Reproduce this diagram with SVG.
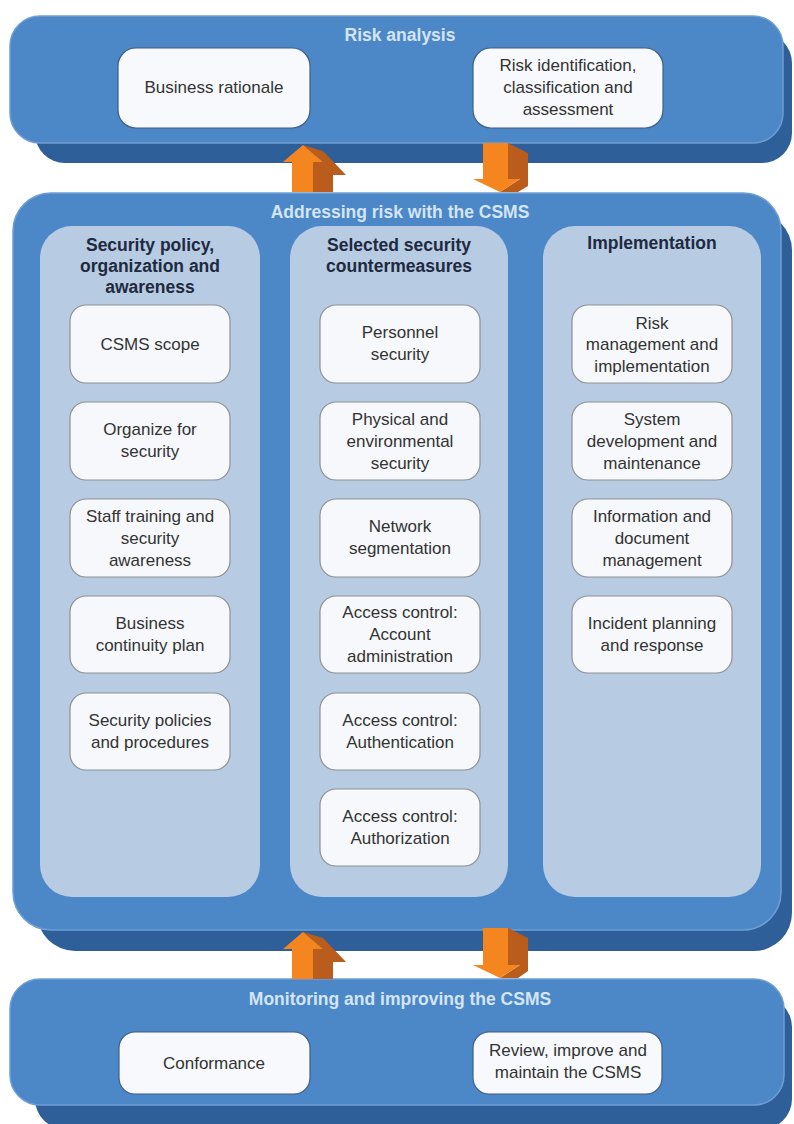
<svg xmlns="http://www.w3.org/2000/svg" width="794" height="1124" viewBox="0 0 794 1124">
<style>
.front{fill:#4c87c7;stroke:#6d9fd5;stroke-width:1.5}
.depth{fill:#2f5f99}
.col{fill:#b7cbe3}
.box{fill:#f6f8fb;stroke:#8e9196;stroke-width:1.2}
.tbox{fill:#f7f9fc;stroke:#3d5f8a;stroke-width:1.2}
.ptitle{font-family:"Liberation Sans",Arial,sans-serif;font-weight:bold;font-size:17.5px;fill:#d4e5f6;text-anchor:middle}
.chead{font-family:"Liberation Sans",Arial,sans-serif;font-weight:bold;font-size:17.5px;fill:#1e2a3e;text-anchor:middle}
.t{font-family:"Liberation Sans",Arial,sans-serif;font-size:17px;fill:#333;text-anchor:middle}
.af{fill:#f5861f}
.as{fill:#b95c1c}
</style>
<rect width="794" height="1124" fill="#ffffff"/>

<g id="risk-analysis">
<rect class="depth" x="35" y="33" width="757" height="130" rx="30"/>
<rect class="front" x="10" y="16" width="773" height="127" rx="30"/>
<text class="ptitle" x="400" y="41">Risk analysis</text>
<g id="business-rationale">
<rect class="tbox" x="118" y="48" width="192" height="80" rx="18"/>
<text class="t" x="214" y="93">Business rationale</text>
</g>
<g id="risk-identification">
<rect class="tbox" x="473" y="48" width="190" height="80" rx="18"/>
<text class="t" x="568" y="71">Risk identification,</text>
<text class="t" x="568" y="93">classification and</text>
<text class="t" x="568" y="115">assessment</text>
</g>
</g>

<g id="addressing-risk">
<rect class="depth" x="37" y="212" width="755" height="739" rx="38"/>
<rect class="front" x="13" y="193" width="768" height="737" rx="38"/>
<text class="ptitle" x="400" y="218">Addressing risk with the CSMS</text>
</g>

<g id="col-policy">
<rect class="col" x="40" y="226" width="220" height="671" rx="32"/>
<text class="chead" x="150" y="251">Security policy,</text>
<text class="chead" x="150" y="272">organization and</text>
<text class="chead" x="150" y="293">awareness</text>
</g>
<g id="col-countermeasures">
<rect class="col" x="290" y="226" width="218" height="671" rx="32"/>
<text class="chead" x="399" y="251">Selected security</text>
<text class="chead" x="399" y="272">countermeasures</text>
</g>
<g id="col-implementation">
<rect class="col" x="543" y="226" width="218" height="671" rx="32"/>
<text class="chead" x="652" y="249">Implementation</text>
</g>

<g id="csms-scope">
<rect class="box" x="70" y="305" width="160" height="78" rx="16"/>
<text class="t" x="150" y="350">CSMS scope</text>
</g>
<g id="organize">
<rect class="box" x="70" y="402" width="160" height="78" rx="16"/>
<text class="t" x="150" y="435">Organize for</text>
<text class="t" x="150" y="457">security</text>
</g>
<g id="staff-training">
<rect class="box" x="70" y="499" width="160" height="78" rx="16"/>
<text class="t" x="150" y="522">Staff training and</text>
<text class="t" x="150" y="544">security</text>
<text class="t" x="150" y="566">awareness</text>
</g>
<g id="business-continuity">
<rect class="box" x="70" y="596" width="160" height="77" rx="16"/>
<text class="t" x="150" y="629">Business</text>
<text class="t" x="150" y="651">continuity plan</text>
</g>
<g id="security-policies">
<rect class="box" x="70" y="693" width="160" height="77" rx="16"/>
<text class="t" x="150" y="726">Security policies</text>
<text class="t" x="150" y="748">and procedures</text>
</g>

<g id="personnel">
<rect class="box" x="320" y="305" width="160" height="78" rx="16"/>
<text class="t" x="400" y="338">Personnel</text>
<text class="t" x="400" y="360">security</text>
</g>
<g id="physical">
<rect class="box" x="320" y="402" width="160" height="78" rx="16"/>
<text class="t" x="400" y="425">Physical and</text>
<text class="t" x="400" y="447">environmental</text>
<text class="t" x="400" y="469">security</text>
</g>
<g id="network">
<rect class="box" x="320" y="499" width="160" height="78" rx="16"/>
<text class="t" x="400" y="532">Network</text>
<text class="t" x="400" y="554">segmentation</text>
</g>
<g id="account-admin">
<rect class="box" x="320" y="596" width="160" height="77" rx="16"/>
<text class="t" x="400" y="618">Access control:</text>
<text class="t" x="400" y="640">Account</text>
<text class="t" x="400" y="662">administration</text>
</g>
<g id="authentication">
<rect class="box" x="320" y="693" width="160" height="77" rx="16"/>
<text class="t" x="400" y="726">Access control:</text>
<text class="t" x="400" y="748">Authentication</text>
</g>
<g id="authorization">
<rect class="box" x="320" y="789" width="160" height="77" rx="16"/>
<text class="t" x="400" y="822">Access control:</text>
<text class="t" x="400" y="844">Authorization</text>
</g>

<g id="risk-management">
<rect class="box" x="572" y="305" width="160" height="78" rx="16"/>
<text class="t" x="652" y="329">Risk</text>
<text class="t" x="652" y="350">management and</text>
<text class="t" x="652" y="372">implementation</text>
</g>
<g id="system-dev">
<rect class="box" x="572" y="402" width="160" height="78" rx="16"/>
<text class="t" x="652" y="425">System</text>
<text class="t" x="652" y="447">development and</text>
<text class="t" x="652" y="469">maintenance</text>
</g>
<g id="information">
<rect class="box" x="572" y="499" width="160" height="78" rx="16"/>
<text class="t" x="652" y="522">Information and</text>
<text class="t" x="652" y="544">document</text>
<text class="t" x="652" y="566">management</text>
</g>
<g id="incident">
<rect class="box" x="572" y="596" width="160" height="77" rx="16"/>
<text class="t" x="652" y="629">Incident planning</text>
<text class="t" x="652" y="651">and response</text>
</g>

<g id="monitoring">
<rect class="depth" x="35" y="997" width="757" height="132" rx="30"/>
<rect class="front" x="10" y="979" width="774" height="126" rx="30"/>
<text class="ptitle" x="400" y="1005">Monitoring and improving the CSMS</text>
<g id="conformance">
<rect class="tbox" x="119" y="1032" width="191" height="62" rx="16"/>
<text class="t" x="214" y="1069">Conformance</text>
</g>
<g id="review">
<rect class="tbox" x="473" y="1032" width="189" height="62" rx="16"/>
<text class="t" x="568" y="1056">Review, improve and</text>
<text class="t" x="568" y="1078">maintain the CSMS</text>
</g>
</g>

<g id="connectors">
<g id="arrow-up-top">
<polygon class="as" points="303,145 323,151 346,175 333,175 333,192 313,192 313,162 323,162"/>
<polygon class="af" points="303,145 323,162 313,162 313,192 292,192 292,162 283,162"/>
</g>
<g id="arrow-down-top">
<polygon class="as" points="508,143 528,153 528,186 518,192 500,192 520,179 508,179"/>
<polygon class="af" points="483,143 508,143 508,179 520,179 500,192 473,179 483,179"/>
</g>
<g id="arrow-up-bottom">
<polygon class="as" points="303,932 323,938 346,962 333,962 333,979 313,979 313,949 323,949"/>
<polygon class="af" points="303,932 323,949 313,949 313,979 292,979 292,949 283,949"/>
</g>
<g id="arrow-down-bottom">
<polygon class="as" points="508,928 528,938 528,971 518,978 500,978 520,965 508,965"/>
<polygon class="af" points="483,928 508,928 508,965 520,965 500,978 473,965 483,965"/>
</g>
</g>
</svg>
